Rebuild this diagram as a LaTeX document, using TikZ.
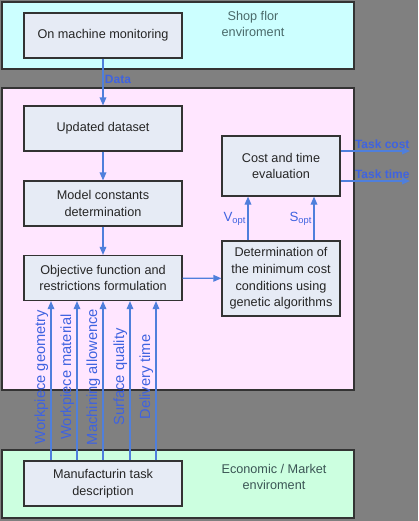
\documentclass[tikz,border=0pt]{standalone}
\usepackage{fontspec}
\setmainfont{Liberation Sans}
\usetikzlibrary{arrows.meta}
\definecolor{bggrey}{HTML}{808080}
\definecolor{shopfill}{HTML}{CCFFFF}
\definecolor{procfill}{HTML}{FFE6FF}
\definecolor{marketfill}{HTML}{CCFFE0}
\definecolor{boxfill}{HTML}{E6EBF5}
\definecolor{boxline}{HTML}{333333}
\definecolor{flowblue}{HTML}{4F7FDC}
\definecolor{lblblue}{HTML}{3F63E0}
\definecolor{envtext}{HTML}{4A6A6A}
\tikzset{
  envbox/.style={draw=boxline,line width=1pt},
  box/.style={draw=boxline,fill=boxfill,text=black!85,align=center,line width=0.9pt,
    font=\fontsize{9.5}{12.5}\selectfont,inner sep=0pt},
  wide/.style={minimum width=118.5pt,minimum height=33.75pt},
  flow/.style={draw=flowblue,line width=0.9pt,-{Triangle[length=6pt,width=5pt]}},
  lbl/.style={text=lblblue,font=\fontsize{10}{11}\selectfont,inner sep=1pt},
  outlbl/.style={lbl,font=\bfseries\fontsize{9}{10}\selectfont},
}
\begin{document}
\begin{tikzpicture}[x=0.75pt,y=-0.75pt]
        \fill[bggrey](0,0)rectangle(418,521);
        \useasboundingbox(0,0)rectangle(418,521);
        % environments
        \draw[envbox,fill=shopfill](2,2)rectangle(354,69);
        \draw[envbox,fill=procfill](2,88)rectangle(354,390);
        \draw[envbox,fill=marketfill](2,450)rectangle(354,518);
        \node[text=envtext,align=center,font=\fontsize{9.5}{12.5}\selectfont](e1)at(253,24){Shop flor\\enviroment};
        \node[text=envtext!80!black,align=center,font=\fontsize{9.5}{12.5}\selectfont](e2)at(274,477){Economic / Market\\enviroment};
        % blocks
        \node[box,wide](1)at(103,35.5){On machine monitoring};
        \node[box,wide](2)at(103,128.5){Updated dataset};
        \node[box,wide](3)at(103,203.5){Model constants\\determination};
        \node[box,wide](4)at(103,278){Objective function and\\restrictions formulation};
        \node[box,minimum width=88.5pt,minimum height=45pt](5)at(281,166){Cost and time\\evaluation};
        \node[box,minimum width=88.5pt,minimum height=56.25pt](6)at(281,278.5){Determination of\\the minimum cost\\conditions using\\genetic algorithms};
        \node[box,wide](7)at(103,483.5){Manufacturin task\\description};
        \coordinate(8)at(410,151);
        \coordinate(9)at(410,181);
        % connectors
        \draw[flow](1)--(2)node[outlbl,pos=0.45,anchor=west]{Data};
        \draw[flow](2)--(3);
        \draw[flow](3)--(4);
        \draw[flow](4)--(6);
        \draw[flow]([xshift=-24.75pt]6.north)--([xshift=-24.75pt]5.south)node[lbl,midway,left]{V\textsubscript{opt}};
        \draw[flow]([xshift=24.75pt]6.north)--([xshift=24.75pt]5.south)node[lbl,midway,left]{S\textsubscript{opt}};
        \draw[flow](5.east|-8)--(8)node[outlbl,above,pos=0.6]{Task cost};
        \draw[flow](5.east|-9)--(9)node[outlbl,above,pos=0.6]{Task time};
        \foreach \dx/\txt in {-39/Workpiece geometry,-19.5/Workpiece material,0/Machining allowence,20.25/Surface quality,39.75/Delivery time}{
          \draw[flow]([xshift=\dx pt]7.north)--([xshift=\dx pt]4.south);
          \node[lbl,rotate=90,anchor=south,font=\fontsize{11}{12}\selectfont]at([xshift=\dx pt-1pt]7.north|-0,377){\txt};
        }
    \end{tikzpicture}
\end{document}
